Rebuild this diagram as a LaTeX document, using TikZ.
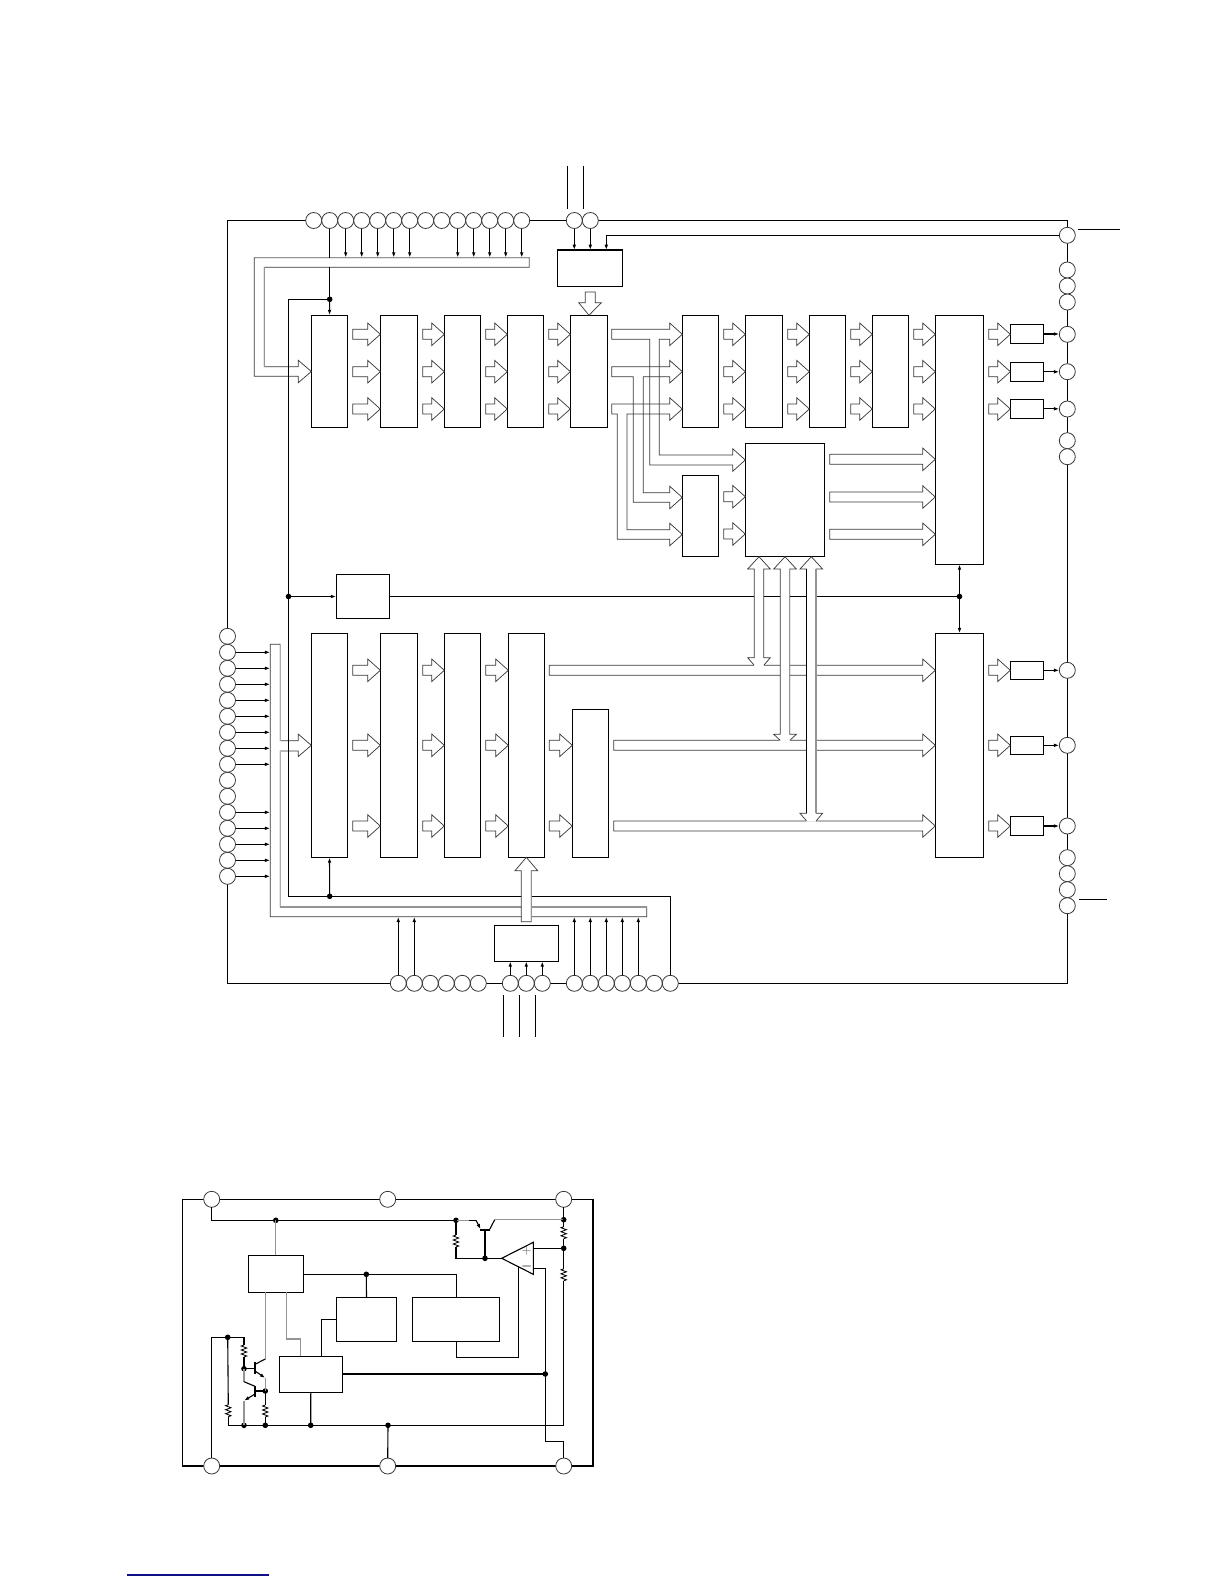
\documentclass[tikz,border=0pt]{standalone}
\usetikzlibrary{arrows.meta,backgrounds}
\definecolor{nv}{RGB}{15,15,135}
\tikzset{
  x=0.5pt,y=-0.5pt,
  wire/.style={line width=0.55pt,black},
  thickw/.style={line width=0.95pt,black},
  gw/.style={line width=0.55pt,black!42},
  gr/.style={line width=0.65pt,black!42},
  hol/.style={line width=0.36pt,black!78,line join=miter},
  sa/.style={-{Latex[length=2.7pt,width=1.8pt]}},
  bx/.style={draw=black,line width=0.55pt,inner sep=0pt,outer sep=0pt,fill=white},
  pin/.style={circle,draw=black!78,line width=0.4pt,fill=white,minimum size=8pt,inner sep=0pt,outer sep=0pt},
  jn/.style={circle,fill=black,minimum size=2.8pt,inner sep=0pt,outer sep=0pt},
}
\newcommand\blk[5]{\node[bx,minimum width={(#4-#2)*0.5pt},minimum height={(#5-#3)*0.5pt}] (#1) at ({(#2+#4)/2},{(#3+#5)/2}) {};}
\newcommand\harr[3]{%
  \coordinate (hS) at (#1.east |- 0,#3);
  \coordinate (hT) at (#2.west |- 0,#3);
  \draw[hol] ([shift={(5,-5)}]hS) -- ([shift={(-12.5,-5)}]hT) -- ([shift={(-12.5,-11.2)}]hT) -- (hT)
     -- ([shift={(-12.5,11.2)}]hT) -- ([shift={(-12.5,5)}]hT) -- ([shift={(5,5)}]hS) -- cycle;}
% vertical double arrow: centre x, tip y, top base y, bottom base y, truncation y
\newcommand\varr[5]{%
  \fill[white] (#1,#2) -- ({#1+11.3},#3) -- ({#1+4.8},#3) -- ({#1+4.8},#4) -- ({#1+11.3},#4) -- ({#1+4.8},{#5+0.7})
     -- ({#1-4.8},{#5+0.7}) -- ({#1-11.3},#4) -- ({#1-4.8},#4) -- ({#1-4.8},#3) -- ({#1-11.3},#3) -- cycle;
  \draw[hol] ({#1-4.8},#5) -- ({#1-11.3},#4) -- ({#1-4.8},#4) -- ({#1-4.8},#3) -- ({#1-11.3},#3) -- (#1,#2)
     -- ({#1+11.3},#3) -- ({#1+4.8},#3) -- ({#1+4.8},#4) -- ({#1+11.3},#4) -- ({#1+4.8},#5);}
\newcommand\zig[3]{\draw[#3,line width=0.42pt] (#1,#2) -- ++(-2.7,1) -- ++(5.4,2) -- ++(-5.4,2) -- ++(5.4,2) -- ++(-5.4,2) -- ++(5.4,2) -- ++(-2.7,1);}
\begin{document}
\begin{tikzpicture}
\useasboundingbox (0,0) rectangle (1224,1584);
%% ---------- pins
\foreach \i in {0,...,13} {\node[pin] (t\i) at ({313.7+16*\i},220.5) {};}
\node[pin] (u0) at (574.3,220.5) {};
\node[pin] (u1) at (590.3,220.5) {};
\foreach \i in {0,...,15} {\node[pin] (l\i) at (227.5,{636.3+16*\i}) {};}
\foreach \y [count=\i] in {235.3,270,286,302,334.3,371.7,409,440.7,456.7,670.3,745.3,826,857.7,873.7,889.7,905.7} {\node[pin] (r\i) at (1067.3,\y) {};}
\foreach \i in {0,...,5} {\node[pin] (bo\i) at ({398.3+16*\i},983.3) {};}
\foreach \i in {0,...,2} {\node[pin] (bm\i) at ({510.3+16*\i},983.3) {};}
\foreach \i in {0,...,6} {\node[pin] (bn\i) at ({574.3+16*\i},983.3) {};}
\begin{pgfonlayer}{background}
\draw[wire] (t0.center) -| (l0.center) -- (l15.center) |- (bn6.center) -| (r16.center) -- (r1.center) |- (u1.center) -- (t0.center);
\end{pgfonlayer}
%% ---------- blocks
\blk{cu}{557.3}{250}{622.7}{286.7}
\blk{cd}{494.3}{925.3}{558.7}{961.3}
\def\yt{315.3}\def\yb{427.3}
\blk{b1}{311.3}{\yt}{347.7}{\yb}
\blk{b2}{380.3}{\yt}{417.7}{\yb}
\blk{b3}{444.3}{\yt}{480.7}{\yb}
\blk{b4}{507.3}{\yt}{543.7}{\yb}
\blk{b5}{570.3}{\yt}{607.7}{\yb}
\blk{b6}{682.3}{\yt}{718.7}{\yb}
\blk{b7}{745.3}{\yt}{782.7}{\yb}
\blk{b8}{809.3}{\yt}{845.7}{\yb}
\blk{b9}{872.3}{\yt}{908.7}{\yb}
\blk{b10}{935.3}{\yt}{983.7}{564.3}
\blk{b11}{682.3}{475.3}{718.7}{556.3}
\blk{b12}{745.3}{443.3}{824.7}{556.3}
\blk{b13}{336.3}{574.3}{389.7}{618.7}
\def\ct{633.3}\def\cb{857.3}
\blk{c1}{311.3}{\ct}{347.7}{\cb}
\blk{c2}{380.3}{\ct}{417.7}{\cb}
\blk{c3}{444.3}{\ct}{480.7}{\cb}
\blk{c4}{508.3}{\ct}{544.3}{\cb}
\blk{c5}{572.3}{709.3}{608.7}{\cb}
\blk{c6}{935.3}{\ct}{983.7}{\cb}
\blk{s1}{1010.3}{324.3}{1043.7}{343.7}
\blk{s2}{1010.3}{362.3}{1043.7}{381.3}
\blk{s3}{1010.3}{399.3}{1043.7}{418.3}
\blk{s4}{1010.3}{661.3}{1043.7}{679.3}
\blk{s5}{1010.3}{736.3}{1043.7}{754.3}
\blk{s6}{1010.3}{816.3}{1043.7}{835.7}
%% ---------- hollow arrows, top row
\foreach \y in {334.3,371.7,409} {
  \harr{b1}{b2}{\y}\harr{b2}{b3}{\y}\harr{b3}{b4}{\y}\harr{b4}{b5}{\y}
  \harr{b6}{b7}{\y}\harr{b7}{b8}{\y}\harr{b8}{b9}{\y}\harr{b9}{b10}{\y}\harr{b10}{s1}{\y}
}
\harr{b11}{b12}{496.7}\harr{b11}{b12}{534}
\foreach \y in {459.3,497,534.3} {\harr{b12}{b10}{\y}}
%% bottom row
\foreach \y in {670.3,745.3,826} {\harr{c1}{c2}{\y}\harr{c2}{c3}{\y}\harr{c3}{c4}{\y}\harr{c6}{s4}{\y}}
\harr{c4}{c5}{745.3}\harr{c4}{c5}{826}
\harr{c4}{c6}{670.3}\harr{c5}{c6}{745.3}\harr{c5}{c6}{826}
%% split outputs of b5
\draw[hol] (649.7,339.3) -- (611.7,339.3) -- (611.7,329.3) -- (669.8,329.3) -- (669.8,323.1) -- (682.3,334.3) -- (669.8,345.5) -- (669.8,339.3) -- (659.3,339.3) -- (659.3,455) -- (732.8,455) -- (732.8,448.8) -- (745.3,460) -- (732.8,471.2) -- (732.8,465) -- (649.7,465) -- cycle;
\draw[hol] (633.3,376.7) -- (611.7,376.7) -- (611.7,366.7) -- (669.8,366.7) -- (669.8,360.5) -- (682.3,371.7) -- (669.8,382.9) -- (669.8,376.7) -- (643.3,376.7) -- (643.3,492.7) -- (669.8,492.7) -- (669.8,486.3) -- (682.3,497.5) -- (669.8,508.7) -- (669.8,502.3) -- (633.3,502.3) -- cycle;
\draw[hol] (617.3,414) -- (611.7,414) -- (611.7,404) -- (669.8,404) -- (669.8,397.8) -- (682.3,409) -- (669.8,420.2) -- (669.8,414) -- (627,414) -- (627,529.7) -- (669.8,529.7) -- (669.8,523.3) -- (682.3,534.5) -- (669.8,545.7) -- (669.8,539.3) -- (617.3,539.3) -- cycle;
%% down arrow from cu to b5
\draw[hol] (585.3,292) -- (595.3,292) -- (595.3,302.7) -- (601.3,302.7) -- (b5.north) -- (578.7,302.7) -- (585.3,302.7) -- cycle;
%% ---------- buses
\draw[hol] (529.3,257.7) -- (254.3,257.7) -- (254.3,376.3) -- (298.3,376.3) -- (298.3,382.7) -- (311.3,371.5) -- (298.3,360.3) -- (298.3,366.7) -- (264.3,366.7) -- (264.3,267.3) -- (529.3,267.3) -- cycle;
\draw[gr] (254.3,257.7) -- (529.3,257.7) -- (529.3,267.3);
\draw[gr] (264.3,267.3) -- (264.3,366.7);
\draw[hol] (280.3,644.3) -- (270.3,644.3) -- (270.3,916.7) -- (646.7,916.7) -- (646.7,907) -- (280.3,907) -- (280.3,751) -- (298.3,751) -- (298.3,756.5) -- (311.3,745.3) -- (298.3,734.1) -- (298.3,740.7) -- (280.3,740.7) -- cycle;
\draw[gr,black!32] (280.3,644.3) -- (280.3,740.7) (280.3,751) -- (280.3,907);
\draw[line width=0.85pt,black!42] (280.3,907) -- (646.7,907);
%% ---------- wires, upper part
\coordinate (wt) at (288.5,299.3);
\coordinate (wb) at (288.5,896.3);
\coordinate (wc) at (670.3,896.3);
\node[jn] (j1) at (329.7,299.3) {};
\node[jn] (jl) at (288.5,596.5) {};
\node[jn] (j2) at (329.7,896.3) {};
\node[jn] (jr) at (959.5,596.5) {};
\draw[wire] (t1.south) -- (329.7,257.7);
\draw[wire] (329.7,267.3) -- (j1.center);
\draw[wire,sa] (j1.center) -- (b1.north);
\draw[wire] (j1.center) -- (wt) -- (wb) -- (wc) -- (bn6.north);
\draw[wire,sa] (j2.center) -- (c1.south);
\draw[wire,sa] (jl.center) -- (b13.west);
\draw[wire] (b13.east) -- (jr.center);
\draw[wire,sa] (jr.center) -- (b10.south);
\draw[wire,sa] (jr.center) -- (c6.north);
\foreach \k in {2,3,4,5,6,9,10,11,12,13} {\draw[wire,sa] (t\k.south) -- (t\k.south |- 0,257.7);}
\draw[wire,sa] (u0.south) -- (u0.south |- cu.north);
\draw[wire,sa] (u1.south) -- (u1.south |- cu.north);
\draw[wire,sa] (r1.west) -| ([xshift=8.15pt]cu.north);
\foreach \k in {1,...,8,11,12,13,14,15} {\draw[wire,sa] (l\k.east) -- (l\k.east -| 270.3,0);}
\foreach \k in {0,1} {\draw[wire,sa] (bo\k.north) -- (bo\k.north |- 0,916.7);}
\foreach \k in {0,...,4} {\draw[wire,sa] (bn\k.north) -- (bn\k.north |- 0,916.7);}
\foreach \k in {0,1,2} {\draw[wire,sa] (bm\k.north) -- (bm\k.north |- cd.south);}
\foreach \a/\b in {s1/r5,s2/r6,s3/r7,s4/r10,s5/r11,s6/r12} {\draw[wire,sa] (\a.east) -- (\a.east -| \b.west);}
%% free lines
\coordinate (fa1) at (567.3,166); \coordinate (fa2) at (567.3,209);
\coordinate (fb1) at (583.3,166); \coordinate (fb2) at (583.3,209);
\draw[wire] (fa1) -- (fa2); \draw[wire] (fb1) -- (fb2);
\coordinate (fr1) at (1078.3,229.3); \coordinate (fr2) at (1120,229.3);
\draw[wire] (fr1) -- (fr2);
\coordinate (fr3) at (1079,899.7); \coordinate (fr4) at (1106.7,899.7);
\draw[wire] (fr3) -- (fr4);
\foreach \x [count=\i] in {503.7,519.3,535.3} {\coordinate (fc\i) at (\x,995); \coordinate (fd\i) at (\x,1036.7); \draw[wire] (fc\i) -- (fd\i);}
%% big upward arrow over the bus
\fill[white] (521.3,921.7) -- (521.3,870.7) -- (515,870.7) -- (526.3,857.3) -- (537.7,870.7) -- (531.3,870.7) -- (531.3,921.7) -- cycle;
\draw[hol] (521.3,921.7) -- (521.3,870.7) -- (515,870.7) -- (526.3,857.3) -- (537.7,870.7) -- (531.3,870.7) -- (531.3,921.7) -- cycle;
\draw[gr] (531.3,870.7) -- (531.3,921.7);
%% double vertical arrows
\varr{759}{556.7}{569}{657.7}{665.3}
\varr{785}{556.7}{569}{734.3}{740.4}
\varr{811.3}{556.7}{569}{813.3}{820.9}
\draw[gr] (789.8,569) -- (789.8,734.3);
\draw[gr] (816.1,569) -- (816.1,813.3);
\draw[wire] (806.5,569) -- (806.5,813.3);
%% ---------- regulator
\node[pin] (p1) at (211.7,1199.3) {};
\node[pin] (p2) at (387.7,1199.3) {};
\node[pin] (p3) at (563.7,1199.3) {};
\node[pin] (p4) at (211.7,1466) {};
\node[pin] (p5) at (387.7,1466) {};
\node[pin] (p6) at (563.7,1466) {};
\begin{pgfonlayer}{background}
\draw[wire] (182.3,1465.7) |- (p1.center) -- (p3.center) -- (592.8,1199.3);
\draw[thickw,line join=miter] (592.8,1199.3) |- (182.3,1465.9);
\end{pgfonlayer}
\blk{ra}{248.3}{1255.3}{303.3}{1292.3}
\blk{rc}{336.7}{1297.3}{396.3}{1341.3}
\blk{rd}{412.3}{1297.3}{499.3}{1341.3}
\blk{re}{279.3}{1356.3}{342.3}{1392.3}
\node[jn] (ja) at (275.8,1220.3) {};
\node[jn] (jb) at (456,1220.3) {};
\node[jn] (jc) at (563.7,1219.7) {};
\node[jn] (jd) at (563.7,1248.3) {};
\node[jn] (je) at (485,1258.3) {};
\node[jn] (jf) at (366.3,1274.3) {};
\node[jn] (jg) at (545.3,1374) {};
\node[jn] (jh) at (227.7,1337.3) {};
\node[jn] (ji) at (244,1368.7) {};
\node[jn] (jj) at (265.3,1391) {};
\node[jn] (jk) at (244,1425.3) {};
\node[jn] (jm) at (265.3,1425.3) {};
\node[jn] (jn1) at (310.7,1425.3) {};
\node[jn] (jo) at (388,1425.3) {};
%% top rail of regulator
\coordinate (c1a) at (211.7,1220.3);
\draw[wire] (p1.south) -- (c1a) -- (jb.center);
\draw[gw] (jb.center) -- (469,1220.3);
\draw[wire] (469,1220.3) -- (476,1220.3);
\draw[wire,sa] (476,1220.3) -- (480.7,1229.3);
\draw[line width=1pt] (480.3,1229.7) -- (490,1229.7);
\draw[wire] (489.7,1229.3) -- (494.7,1219.7);
\draw[gw] (494.7,1219.7) -- (jc.center);
\draw[wire] (485,1229.7) -- (je.center);
\draw[wire] (jb.center) -- (456,1235); \zig{456}{1235}{black}
\draw[wire] (456,1247) |- (je.center);
\draw[wire] (je.center) -- (501.7,1258.3);
%% op amp
\node[inner sep=0pt] (opm) at (526.7,1251.3) {\fontsize{4.5}{5}\selectfont\color{black!60}$+$};
\node[inner sep=0pt] (opn) at (526.7,1266.9) {\fontsize{6}{6}\selectfont$\mathbf{-}$};
\draw[wire,line join=miter] (501.7,1258.3) -- (533.3,1242.3) -- (533.3,1274.3) -- cycle;
\draw[wire] (533.3,1248.3) -- (jd.center);
\draw[wire] (533.3,1268.3) -- (545.3,1268.3) -- (545.3,1441.3) -- (563.7,1441.3) -- (p6.north);
\draw[wire] (p3.south) -- (jc.center) -- (563.7,1226.7); \zig{563.7}{1226.7}{black}
\draw[wire] (563.7,1238.7) -- (jd.center) -- (563.7,1268.8); \zig{563.7}{1268.8}{black}
\draw[wire] (563.7,1280.8) -- (563.7,1425.3) -- (228.3,1425.3) -- (228.3,1416.7);
\zig{228.3}{1404.7}{black}
\draw[wire] (228.3,1404.7) -- (jh.center);
%% box wiring
\draw[gw] (ja.center) -- (ra.north);
\draw[wire] (ra.east |- jf.center) -- (456.3,1274.3) -- (456.3,1297.3);
\draw[wire] (jf.center) -- (rc.north);
\draw[wire] (rc.west) -| (321.7,1356.3);
\draw[gw] (286.7,1292.3) |- (300.3,1339) -- (300.3,1356.3);
\draw[wire] (456.3,1341.3) |- (518.7,1357.3) -- (518.7,1266.9);
\draw[wire] (jg.center) -- (re.east |- jg.center);
\draw[wire] (re.south) -- (jn1.center);
\draw[wire] (jo.center) -- (p5.north);
%% left pin and transistors
\draw[wire] (p4.north) |- (jh.center) -- (244,1337.3);
\draw[wire] (244,1337.3) -- (244,1345); \zig{244}{1345}{black}
\draw[wire] (244,1357) -- (ji.center);
\draw[gw] (265.3,1292.3) -- (265.3,1359);
\draw[wire] (265.3,1359) -- (255,1364.3);
\draw[line width=0.8pt] (255,1361.7) -- (255,1374);
\draw[wire] (ji.center) -- (255,1368.7);
\draw[wire,sa] (255,1371) -- (265.3,1378);
\draw[gw] (265.3,1378) -- (jj.center);
\draw[gw] (ji.center) -- (244,1381.7);
\draw[wire] (244,1381.7) -- (255,1386.3);
\draw[line width=0.8pt] (255,1386) -- (255,1396.7);
\draw[wire] (255,1391) -- (jj.center);
\draw[wire,sa] (255,1394) -- (244,1400.7);
\draw[gw] (244,1400.7) -- (jk.center);
\draw[wire] (jj.center) -- (265.3,1405); \zig{265.3}{1405}{black}
\draw[wire] (265.3,1417) -- (jm.center);
%% underline at page foot
\coordinate (ua) at (127,1575); \coordinate (ub) at (268.7,1575);
\draw[nv,line width=0.6pt] (ua) -- (ub);
\end{tikzpicture}
\end{document}
